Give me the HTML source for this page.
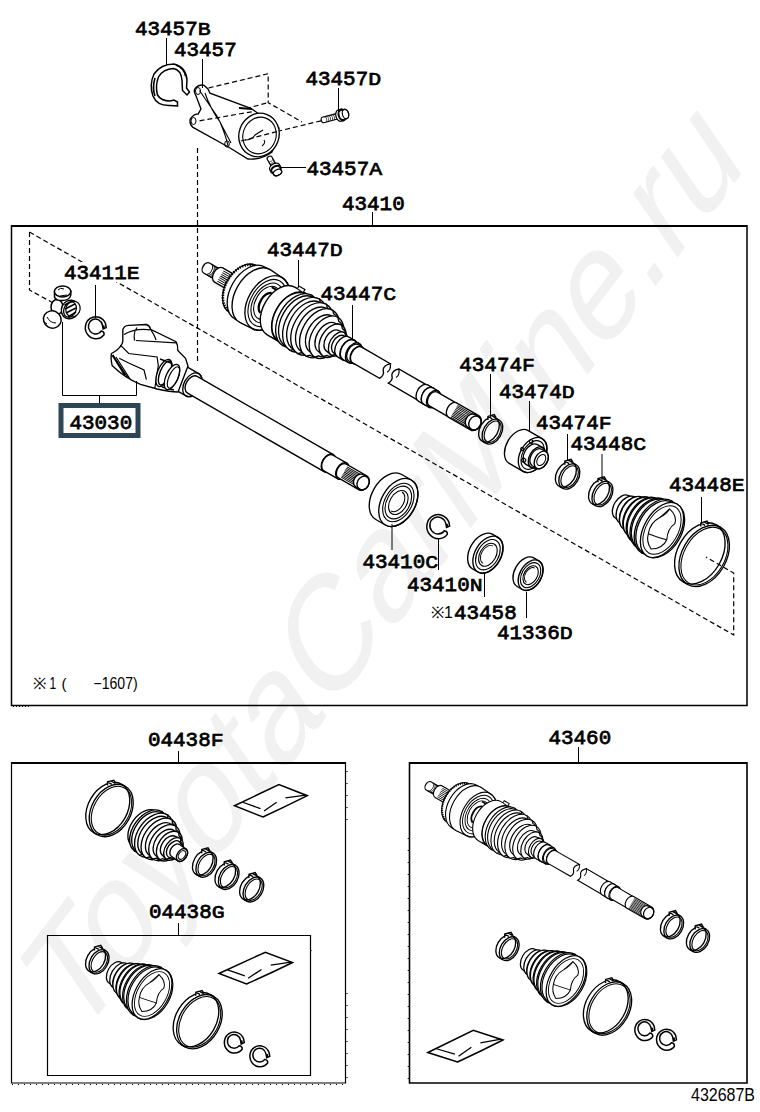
<!DOCTYPE html>
<html><head><meta charset="utf-8">
<style>
html,body{margin:0;padding:0;background:#fff;}
svg{display:block;}
.lb{font-family:"Liberation Mono",monospace;font-weight:normal;font-size:20.5px;fill:#000;stroke:#000;stroke-width:0.75px;}
.sn{font-family:"Liberation Sans",sans-serif;fill:#000;}
.wm{font-family:"Liberation Sans",sans-serif;font-size:140px;fill:#f1f1f1;}
</style></head>
<body>
<svg width="760" height="1112" viewBox="0 0 760 1112">
<!-- watermark -->
<text class="wm" transform="translate(76,1044) rotate(-52.6) skewX(-18)">ToyotaCarMine.ru</text>

<path d="M29.5 232 L29.5 290 L55 304" fill="none" stroke="#000" stroke-width="1.2" stroke-dasharray="5 3"/>
<path d="M29.5 232 L733.7 635 L733.7 573 L706 557" fill="none" stroke="#000" stroke-width="1.2" stroke-dasharray="5 3"/>
<path d="M197.5 148 V361" fill="none" stroke="#000" stroke-width="1.2" stroke-dasharray="5 3"/>
<path d="M208.7 87.9 L268.2 73.75 V102.7 L302 122 M321 120.8 L279 131 L230 142 M199.5 120.8 L268 102.7" fill="none" stroke="#000" stroke-width="1.2" stroke-dasharray="5 3"/>
<path d="M177.5 106 L170 105.5 Q157 106 153 96 Q149 85 154 74 Q161 64 174 64 Q186 67 187 80 L186.5 88 L189.5 92 L187 95 L182.5 90.5 L182 80 Q181 70 173.5 68.5 Q163 69 158.5 77 Q155 86 157.5 95 Q161 101 170 101 L174 100 L177.5 102 Z" fill="#fff" stroke="#000" stroke-width="1.5"/>
<path d="M155 78 Q152 88 155 96 M176 65 Q184 68 185.5 76" fill="none" stroke="#000" stroke-width="1.6"/>
<path d="M195.5 88 Q199 84 204 85.3 L208 89 L210 93.2 L250.8 108.3 L279 128 L272 152 Q262 160 248 159 L228.4 147 L193 127.4 Q189 124 190.3 119 Q194 113.5 198 114.2 L201 109 L195.5 94.5 Q193 91 195.5 88 Z" fill="#fff" stroke="#000" stroke-width="1.35"/>
<ellipse cx="259" cy="135" rx="20" ry="22" transform="rotate(20 259 135)" fill="#fff" stroke="#000" stroke-width="1.35"/>
<ellipse cx="259.5" cy="135.5" rx="16.5" ry="18.5" transform="rotate(20 259.5 135.5)" fill="none" stroke="#000" stroke-width="1.1"/>
<path d="M199.5 90.5 L216.6 115.5 L231 143 M205 93 Q210 108 220 122 Q226 136 228 146 M245 140 Q252 140 255 135 L263 130 M262 146 Q266 143 264 140" fill="none" stroke="#000" stroke-width="1.1"/>
<ellipse cx="198" cy="91" rx="2.5" ry="3.5" fill="none" stroke="#000" stroke-width="1"/><ellipse cx="193.5" cy="121" rx="2.5" ry="3.5" fill="none" stroke="#000" stroke-width="1"/><ellipse cx="227" cy="144" rx="2.3" ry="3.2" fill="none" stroke="#000" stroke-width="1"/>
<path d="M239 108 L252 109" fill="none" stroke="#000" stroke-width="2"/>
<path d="M199.5 120.8 L253 111.6 M241 141 L279 131" fill="none" stroke="#000" stroke-width="1.2" stroke-dasharray="5 3"/>
<g transform="translate(323,120) rotate(-14.93) scale(1)">
<path d="M0 -2.8 L17.29 -2.8 A1.82 2.8 0 0 1 17.29 2.8 L0 2.8 A1.82 2.8 0 0 1 0 -2.8 Z" fill="#fff" stroke="#000" stroke-width="1.2"/>
<ellipse cx="17.29" cy="0" rx="1.82" ry="2.8" fill="none" stroke="#000" stroke-width="1.2"/>
<path d="M2 -2.8 A1.82 2.8 0 0 1 2 2.8" fill="none" stroke="#000" stroke-width="0.6"/>
<path d="M4 -2.8 A1.82 2.8 0 0 1 4 2.8" fill="none" stroke="#000" stroke-width="0.6"/>
<path d="M6 -2.8 A1.82 2.8 0 0 1 6 2.8" fill="none" stroke="#000" stroke-width="0.6"/>
<path d="M8 -2.8 A1.82 2.8 0 0 1 8 2.8" fill="none" stroke="#000" stroke-width="0.6"/>
<path d="M10 -2.8 A1.82 2.8 0 0 1 10 2.8" fill="none" stroke="#000" stroke-width="0.6"/>
<path d="M12 -2.8 A1.82 2.8 0 0 1 12 2.8" fill="none" stroke="#000" stroke-width="0.6"/>
<path d="M14 -2.8 A1.82 2.8 0 0 1 14 2.8" fill="none" stroke="#000" stroke-width="0.6"/>
<path d="M16 -2.8 A1.82 2.8 0 0 1 16 2.8" fill="none" stroke="#000" stroke-width="0.6"/>
<path d="M17.29 -5.88 L19.79 -5.88 A3.82 5.88 0 0 1 19.79 5.88 L17.29 5.88 A3.82 5.88 0 0 1 17.29 -5.88 Z" fill="#fff" stroke="#000" stroke-width="1.2"/>
<ellipse cx="19.79" cy="0" rx="3.82" ry="5.88" fill="none" stroke="#000" stroke-width="1.2"/>
<path d="M19.79 -4.76 L23.29 -4.76 A3.09 4.76 0 0 1 23.29 4.76 L19.79 4.76 A3.09 4.76 0 0 1 19.79 -4.76 Z" fill="#fff" stroke="#000" stroke-width="1.2"/>
<ellipse cx="23.29" cy="0" rx="3.09" ry="4.76" fill="none" stroke="#000" stroke-width="1.2"/>
</g>
<g transform="translate(269.5,158) rotate(61.11) scale(1)">
<path d="M0 -2.6 L10.56 -2.6 A1.69 2.6 0 0 1 10.56 2.6 L0 2.6 A1.69 2.6 0 0 1 0 -2.6 Z" fill="#fff" stroke="#000" stroke-width="1.2"/>
<ellipse cx="10.56" cy="0" rx="1.69" ry="2.6" fill="none" stroke="#000" stroke-width="1.2"/>
<path d="M2 -2.6 A1.69 2.6 0 0 1 2 2.6" fill="none" stroke="#000" stroke-width="0.6"/>
<path d="M4 -2.6 A1.69 2.6 0 0 1 4 2.6" fill="none" stroke="#000" stroke-width="0.6"/>
<path d="M6 -2.6 A1.69 2.6 0 0 1 6 2.6" fill="none" stroke="#000" stroke-width="0.6"/>
<path d="M8 -2.6 A1.69 2.6 0 0 1 8 2.6" fill="none" stroke="#000" stroke-width="0.6"/>
<path d="M10.56 -5.46 L13.06 -5.46 A3.55 5.46 0 0 1 13.06 5.46 L10.56 5.46 A3.55 5.46 0 0 1 10.56 -5.46 Z" fill="#fff" stroke="#000" stroke-width="1.2"/>
<ellipse cx="13.06" cy="0" rx="3.55" ry="5.46" fill="none" stroke="#000" stroke-width="1.2"/>
<path d="M13.06 -4.42 L16.56 -4.42 A2.87 4.42 0 0 1 16.56 4.42 L13.06 4.42 A2.87 4.42 0 0 1 13.06 -4.42 Z" fill="#fff" stroke="#000" stroke-width="1.2"/>
<ellipse cx="16.56" cy="0" rx="2.87" ry="4.42" fill="none" stroke="#000" stroke-width="1.2"/>
</g>
<g id="outershaft">
<g transform="translate(206.5,268) rotate(30) scale(1)">
<path d="M0 -5.8 L14 -5.8 A3.77 5.8 0 0 1 14 5.8 L0 5.8 A3.77 5.8 0 0 1 0 -5.8 Z" fill="#fff" stroke="#000" stroke-width="1.35"/>
<ellipse cx="14" cy="0" rx="3.77" ry="5.8" fill="none" stroke="#000" stroke-width="1.35"/>
<path d="M2 -5.8 A3.77 5.8 0 0 1 2 5.8" fill="none" stroke="#000" stroke-width="0.9"/>
<path d="M4 -5.8 A3.77 5.8 0 0 1 4 5.8" fill="none" stroke="#000" stroke-width="0.9"/>
<path d="M6 -5.8 A3.77 5.8 0 0 1 6 5.8" fill="none" stroke="#000" stroke-width="0.9"/>
<path d="M8 -5.8 A3.77 5.8 0 0 1 8 5.8" fill="none" stroke="#000" stroke-width="0.9"/>
<path d="M10 -5.8 A3.77 5.8 0 0 1 10 5.8" fill="none" stroke="#000" stroke-width="0.9"/>
<path d="M12 -5.8 A3.77 5.8 0 0 1 12 5.8" fill="none" stroke="#000" stroke-width="0.9"/>
<path d="M14 -8.2 L38 -8.2 A5.33 8.2 0 0 1 38 8.2 L14 8.2 A5.33 8.2 0 0 1 14 -8.2 Z" fill="#fff" stroke="#000" stroke-width="1.35"/>
<path d="M16 -6 L37 -6" fill="none" stroke="#000" stroke-width="0.9"/>
<path d="M16 -4 L37 -4" fill="none" stroke="#000" stroke-width="0.9"/>
<path d="M16 -2 L37 -2" fill="none" stroke="#000" stroke-width="0.9"/>
<path d="M16 0 L37 0" fill="none" stroke="#000" stroke-width="0.9"/>
<path d="M16 2 L37 2" fill="none" stroke="#000" stroke-width="0.9"/>
<path d="M16 4 L37 4" fill="none" stroke="#000" stroke-width="0.9"/>
<path d="M16 6 L37 6" fill="none" stroke="#000" stroke-width="0.9"/>
<path d="M36 -12 L44 -12 A7.8 12 0 0 1 44 12 L36 12 A7.8 12 0 0 1 36 -12 Z" fill="#fff" stroke="#000" stroke-width="1.35"/>
<path d="M42 -27 L50 -29 A18.85 29 0 0 1 50 29 L42 27 A17.55 27 0 0 1 42 -27 Z" fill="#fff" stroke="#000" stroke-width="1.35"/>
<path d="M42 -26 A17.5 26 0 0 0 42 26" fill="none" stroke="#000" stroke-width="2.6" stroke-dasharray="1.3 1.3"/>
<path d="M50 -30 L56 -30 A19.5 30 0 0 1 56 30 L50 30 A19.5 30 0 0 1 50 -30 Z" fill="#fff" stroke="#000" stroke-width="1.35"/>
<path d="M56 -30.5 L70 -29.5 A19.18 29.5 0 0 1 70 29.5 L56 30.5 A19.82 30.5 0 0 1 56 -30.5 Z" fill="#fff" stroke="#000" stroke-width="1.35"/>
<ellipse cx="70" cy="0" rx="19.18" ry="29.5" fill="none" stroke="#000" stroke-width="1.35"/>
<ellipse cx="70" cy="0" rx="16.57" ry="25.5" fill="none" stroke="#000" stroke-width="1.1"/>
<ellipse cx="70" cy="0" rx="13.97" ry="21.5" fill="none" stroke="#000" stroke-width="1.1"/>
<ellipse cx="70" cy="0" rx="11.7" ry="18" fill="none" stroke="#000" stroke-width="1.1"/>
<path d="M69 -11 A8 12 0 0 0 69 12" fill="none" stroke="#000" stroke-width="2.2"/>
<path d="M66 -16 L72 -16" fill="none" stroke="#000" stroke-width="2"/>
<path d="M86 -27.5 L99 -27.5 A17.88 27.5 0 0 1 99 27.5 L86 27.5 A17.88 27.5 0 0 1 86 -27.5 Z" fill="#fff" stroke="#000" stroke-width="1.35"/>
<ellipse cx="99" cy="0" rx="17.88" ry="27.5" fill="none" stroke="#000" stroke-width="1.35"/>
<path d="M90 -27.5 A17.88 27.5 0 0 1 90 27.5" fill="none" stroke="#000" stroke-width="0.9"/>
<path d="M89 -28 L89 -30.5 L96 -30.5 L96 -27.5" fill="#fff" stroke="#000" stroke-width="1.2"/>
<path d="M99 -27 L105 -29 A18.85 29 0 0 1 105 29 L99 27 A17.55 27 0 0 1 99 -27 Z" fill="#fff" stroke="#000" stroke-width="1.35"/>
<path d="M105 -29 L107.5 -26 A16.9 26 0 0 1 107.5 26 L105 29 A18.85 29 0 0 1 105 -29 Z" fill="#fff" stroke="#000" stroke-width="1.35"/>
<path d="M107.5 -28 L113.5 -29.5 A19.18 29.5 0 0 1 113.5 29.5 L107.5 28 A18.2 28 0 0 1 107.5 -28 Z" fill="#fff" stroke="#000" stroke-width="1.35"/>
<path d="M113.5 -29.5 L116 -27 A17.55 27 0 0 1 116 27 L113.5 29.5 A19.18 29.5 0 0 1 113.5 -29.5 Z" fill="#fff" stroke="#000" stroke-width="1.35"/>
<path d="M116 -27 L122 -28.5 A18.53 28.5 0 0 1 122 28.5 L116 27 A17.55 27 0 0 1 116 -27 Z" fill="#fff" stroke="#000" stroke-width="1.35"/>
<path d="M122 -28.5 L124.5 -26 A16.9 26 0 0 1 124.5 26 L122 28.5 A18.53 28.5 0 0 1 122 -28.5 Z" fill="#fff" stroke="#000" stroke-width="1.35"/>
<path d="M124.5 -25 L130.5 -26.5 A17.23 26.5 0 0 1 130.5 26.5 L124.5 25 A16.25 25 0 0 1 124.5 -25 Z" fill="#fff" stroke="#000" stroke-width="1.35"/>
<path d="M130.5 -26.5 L133 -24 A15.6 24 0 0 1 133 24 L130.5 26.5 A17.23 26.5 0 0 1 130.5 -26.5 Z" fill="#fff" stroke="#000" stroke-width="1.35"/>
<path d="M132.5 -21 L138.5 -23 A14.95 23 0 0 1 138.5 23 L132.5 21 A13.65 21 0 0 1 132.5 -21 Z" fill="#fff" stroke="#000" stroke-width="1.35"/>
<path d="M138.5 -23 L141 -20 A13 20 0 0 1 141 20 L138.5 23 A14.95 23 0 0 1 138.5 -23 Z" fill="#fff" stroke="#000" stroke-width="1.35"/>
<path d="M139.5 -16.5 L145.5 -18 A11.7 18 0 0 1 145.5 18 L139.5 16.5 A10.72 16.5 0 0 1 139.5 -16.5 Z" fill="#fff" stroke="#000" stroke-width="1.35"/>
<path d="M145.5 -18 L148 -15.5 A10.08 15.5 0 0 1 148 15.5 L145.5 18 A11.7 18 0 0 1 145.5 -18 Z" fill="#fff" stroke="#000" stroke-width="1.35"/>
<path d="M146 -12 L152 -13 A8.45 13 0 0 1 152 13 L146 12 A7.8 12 0 0 1 146 -12 Z" fill="#fff" stroke="#000" stroke-width="1.35"/>
<path d="M152 -13 L154.5 -11 A7.15 11 0 0 1 154.5 11 L152 13 A8.45 13 0 0 1 152 -13 Z" fill="#fff" stroke="#000" stroke-width="1.35"/>
<path d="M153 -10 L158 -10 A6.5 10 0 0 1 158 10 L153 10 A6.5 10 0 0 1 153 -10 Z" fill="#fff" stroke="#000" stroke-width="1.35"/>
<ellipse cx="158" cy="0" rx="6.5" ry="10" fill="none" stroke="#000" stroke-width="1.35"/>
<path d="M158 -11.5 L164 -11.5 A7.48 11.5 0 0 1 164 11.5 L158 11.5 A7.48 11.5 0 0 1 158 -11.5 Z" fill="#fff" stroke="#000" stroke-width="1.35"/>
<ellipse cx="164" cy="0" rx="7.48" ry="11.5" fill="none" stroke="#000" stroke-width="1.35"/>
<path d="M164 -11 L170 -11 A7.15 11 0 0 1 170 11 L164 11 A7.15 11 0 0 1 164 -11 Z" fill="#fff" stroke="#000" stroke-width="1.35"/>
<ellipse cx="170" cy="0" rx="7.15" ry="11" fill="none" stroke="#000" stroke-width="1.35"/>
<path d="M170 -9.5 L174 -9.5 A6.17 9.5 0 0 1 174 9.5 L170 9.5 A6.17 9.5 0 0 1 170 -9.5 Z" fill="#fff" stroke="#000" stroke-width="1.35"/>
<ellipse cx="174" cy="0" rx="6.17" ry="9.5" fill="none" stroke="#000" stroke-width="1.35"/>
<path d="M174 -9 L207 -9 Q202 -4 204 0 Q208 4 205 9 L174 9 A5.8 9 0 0 1 174 -9 Z" fill="#fff" stroke="#000" stroke-width="1.35"/>
<path d="M207 -9 Q211 -4 208.5 0" fill="none" stroke="#000" stroke-width="1.2"/>
<path d="M250 -8.8 L217 -8.8 Q212 -4 214 0 Q218 4 215 8.8 L250 8.8" fill="#fff" stroke="#000" stroke-width="1.35"/>
<path d="M217 -8.8 Q221 -4 219 0" fill="none" stroke="#000" stroke-width="1.2"/>
<path d="M250 -9.3 L256 -9.3 A6.05 9.3 0 0 1 256 9.3 L250 9.3 A6.05 9.3 0 0 1 250 -9.3 Z" fill="#fff" stroke="#000" stroke-width="1.35"/>
<ellipse cx="256" cy="0" rx="6.05" ry="9.3" fill="none" stroke="#000" stroke-width="1.35"/>
<path d="M256 -9.3 L262 -9.3 A6.05 9.3 0 0 1 262 9.3 L256 9.3 A6.05 9.3 0 0 1 256 -9.3 Z" fill="#fff" stroke="#000" stroke-width="1.35"/>
<ellipse cx="262" cy="0" rx="6.05" ry="9.3" fill="none" stroke="#000" stroke-width="1.35"/>
<path d="M262 -8 L284 -8 A5.2 8 0 0 1 284 8 L262 8 A5.2 8 0 0 1 262 -8 Z" fill="#fff" stroke="#000" stroke-width="1.35"/>
<path d="M284 -8.2 L310 -8.2 A5.33 8.2 0 0 1 310 8.2 L284 8.2 A5.33 8.2 0 0 1 284 -8.2 Z" fill="#fff" stroke="#000" stroke-width="1.35"/>
<path d="M286 -6.5 L309 -6.5" fill="none" stroke="#000" stroke-width="0.9"/>
<path d="M286 -5 L309 -5" fill="none" stroke="#000" stroke-width="0.9"/>
<path d="M286 -3.5 L309 -3.5" fill="none" stroke="#000" stroke-width="0.9"/>
<path d="M286 -2 L309 -2" fill="none" stroke="#000" stroke-width="0.9"/>
<path d="M286 -0.5 L309 -0.5" fill="none" stroke="#000" stroke-width="0.9"/>
<path d="M286 1 L309 1" fill="none" stroke="#000" stroke-width="0.9"/>
<path d="M286 2.5 L309 2.5" fill="none" stroke="#000" stroke-width="0.9"/>
<path d="M286 4 L309 4" fill="none" stroke="#000" stroke-width="0.9"/>
<path d="M286 5.5 L309 5.5" fill="none" stroke="#000" stroke-width="0.9"/>
<path d="M286 7 L309 7" fill="none" stroke="#000" stroke-width="0.9"/>
<path d="M306 -7.3 L310 -7.3 A5.84 7.3 0 0 1 310 7.3 L306 7.3 A5.84 7.3 0 0 1 306 -7.3 Z" fill="#fff" stroke="#000" stroke-width="1.35"/>
<ellipse cx="310" cy="0" rx="5.84" ry="7.3" fill="none" stroke="#000" stroke-width="1.35"/>
</g>
</g>
<g transform="translate(490.7,430.6) rotate(30) scale(1)">
<ellipse cx="-2" cy="0" rx="9.11" ry="13.4" fill="none" stroke="#000" stroke-width="1.35"/>
<path d="M-2 -13.4 L2 -13.4 M-2 13.4 L2 13.4" fill="none" stroke="#000" stroke-width="1.35"/>
<ellipse cx="2" cy="0" rx="9.11" ry="13.4" fill="none" stroke="#000" stroke-width="1.35"/>
<ellipse cx="2.3" cy="0" rx="7.31" ry="11.6" fill="none" stroke="#000" stroke-width="1.08"/>
<g transform="translate(-5.23,-10.98) rotate(-45.84)"><path d="M-4 0.5 L-3 -3 L3.5 -3 L4.5 0.5 M-3 -3 L0.5 0.5 M0.5 -3 L4 0.5" fill="#fff" stroke="#000" stroke-width="1.35"/></g>
</g>
<g transform="translate(530,453.5) rotate(30) scale(1)">
<path d="M-13 -19 L3 -19 A12.35 19 0 0 1 3 19 L-13 19 A12.35 19 0 0 1 -13 -19 Z" fill="#fff" stroke="#000" stroke-width="1.35"/>
<ellipse cx="3" cy="0" rx="12.35" ry="19" fill="none" stroke="#000" stroke-width="1.35"/>
<ellipse cx="3" cy="0" rx="10.08" ry="15.5" fill="none" stroke="#000" stroke-width="1.1"/>
<path d="M2 -11.5 L8 -11.5 A7.48 11.5 0 0 1 8 11.5 L2 11.5 A7.48 11.5 0 0 1 2 -11.5 Z" fill="#fff" stroke="#000" stroke-width="1.35"/>
<ellipse cx="8" cy="0" rx="7.48" ry="11.5" fill="none" stroke="#000" stroke-width="1.35"/>
<path d="M8 -9.5 L13 -9.5 A6.17 9.5 0 0 1 13 9.5 L8 9.5 A6.17 9.5 0 0 1 8 -9.5 Z" fill="#fff" stroke="#000" stroke-width="1.35"/>
<ellipse cx="13" cy="0" rx="6.17" ry="9.5" fill="none" stroke="#000" stroke-width="1.35"/>
<ellipse cx="13" cy="0" rx="3.9" ry="6" fill="none" stroke="#000" stroke-width="1.0"/>
<circle cx="-5" cy="-11" r="1.8" fill="none" stroke="#000" stroke-width="1.1"/><circle cx="-2" cy="9" r="2" fill="none" stroke="#000" stroke-width="1.1"/><circle cx="-9" cy="0" r="1.6" fill="none" stroke="#000" stroke-width="1.1"/>
</g>
<g transform="translate(567.6,475.5) rotate(30) scale(1)">
<ellipse cx="-2" cy="0" rx="9.25" ry="13.6" fill="none" stroke="#000" stroke-width="1.35"/>
<path d="M-2 -13.6 L2 -13.6 M-2 13.6 L2 13.6" fill="none" stroke="#000" stroke-width="1.35"/>
<ellipse cx="2" cy="0" rx="9.25" ry="13.6" fill="none" stroke="#000" stroke-width="1.35"/>
<ellipse cx="2.3" cy="0" rx="7.45" ry="11.8" fill="none" stroke="#000" stroke-width="1.08"/>
<g transform="translate(-5.3,-11.14) rotate(-45.84)"><path d="M-4 0.5 L-3 -3 L3.5 -3 L4.5 0.5 M-3 -3 L0.5 0.5 M0.5 -3 L4 0.5" fill="#fff" stroke="#000" stroke-width="1.35"/></g>
</g>
<g transform="translate(600.7,493) rotate(30) scale(1)">
<ellipse cx="-2" cy="0" rx="9.25" ry="13.6" fill="none" stroke="#000" stroke-width="1.35"/>
<path d="M-2 -13.6 L2 -13.6 M-2 13.6 L2 13.6" fill="none" stroke="#000" stroke-width="1.35"/>
<ellipse cx="2" cy="0" rx="9.25" ry="13.6" fill="none" stroke="#000" stroke-width="1.35"/>
<ellipse cx="2.3" cy="0" rx="7.45" ry="11.8" fill="none" stroke="#000" stroke-width="1.08"/>
<g transform="translate(-5.3,-11.14) rotate(-45.84)"><path d="M-4 0.5 L-3 -3 L3.5 -3 L4.5 0.5 M-3 -3 L0.5 0.5 M0.5 -3 L4 0.5" fill="#fff" stroke="#000" stroke-width="1.35"/></g>
</g>
<g transform="translate(662,530) rotate(30) scale(1)">
<path d="M-46 -13 L-40 -14 A9.1 14 0 0 1 -40 14 L-46 13 A8.45 13 0 0 1 -46 -13 Z" fill="#fff" stroke="#000" stroke-width="1.35"/>
<path d="M-40 -14 L-39 -12.5 A8.12 12.5 0 0 1 -39 12.5 L-40 14 A9.1 14 0 0 1 -40 -14 Z" fill="#fff" stroke="#000" stroke-width="1.35"/>
<path d="M-40 -15 L-34 -17.5 A11.38 17.5 0 0 1 -34 17.5 L-40 15 A9.75 15 0 0 1 -40 -15 Z" fill="#fff" stroke="#000" stroke-width="1.35"/>
<path d="M-34 -17.5 L-33 -16 A10.4 16 0 0 1 -33 16 L-34 17.5 A11.38 17.5 0 0 1 -34 -17.5 Z" fill="#fff" stroke="#000" stroke-width="1.35"/>
<path d="M-33 -18.5 L-27 -21 A13.65 21 0 0 1 -27 21 L-33 18.5 A12.03 18.5 0 0 1 -33 -18.5 Z" fill="#fff" stroke="#000" stroke-width="1.35"/>
<path d="M-27 -21 L-26 -19.5 A12.68 19.5 0 0 1 -26 19.5 L-27 21 A13.65 21 0 0 1 -27 -21 Z" fill="#fff" stroke="#000" stroke-width="1.35"/>
<path d="M-26 -21.5 L-20 -24.5 A15.93 24.5 0 0 1 -20 24.5 L-26 21.5 A13.97 21.5 0 0 1 -26 -21.5 Z" fill="#fff" stroke="#000" stroke-width="1.35"/>
<path d="M-20 -24.5 L-19 -23 A14.95 23 0 0 1 -19 23 L-20 24.5 A15.93 24.5 0 0 1 -20 -24.5 Z" fill="#fff" stroke="#000" stroke-width="1.35"/>
<path d="M-19 -24.5 L-13 -27.5 A17.88 27.5 0 0 1 -13 27.5 L-19 24.5 A15.93 24.5 0 0 1 -19 -24.5 Z" fill="#fff" stroke="#000" stroke-width="1.35"/>
<path d="M-13 -27.5 L-12 -26 A16.9 26 0 0 1 -12 26 L-13 27.5 A17.88 27.5 0 0 1 -13 -27.5 Z" fill="#fff" stroke="#000" stroke-width="1.35"/>
<path d="M-12 -27 L-6 -30 A19.5 30 0 0 1 -6 30 L-12 27 A17.55 27 0 0 1 -12 -27 Z" fill="#fff" stroke="#000" stroke-width="1.35"/>
<path d="M-6 -30 L-5 -28.5 A18.53 28.5 0 0 1 -5 28.5 L-6 30 A19.5 30 0 0 1 -6 -30 Z" fill="#fff" stroke="#000" stroke-width="1.35"/>
<path d="M-5 -29 L0 -30 A19.5 30 0 0 1 0 30 L-5 29 A18.85 29 0 0 1 -5 -29 Z" fill="#fff" stroke="#000" stroke-width="1.35"/>
<ellipse cx="0" cy="0" rx="18" ry="30" fill="#fff" stroke="#000" stroke-width="1.35"/>
<ellipse cx="0" cy="0" rx="15.9" ry="26.5" fill="none" stroke="#000" stroke-width="1"/>
<path d="M-4 -22 Q6 -20 8 -12 Q4 -4 9 6 Q10 16 0 22 Q-8 18 -10 10 Q-14 0 -8 -10 Z" fill="none" stroke="#000" stroke-width="1.1"/>
<path d="M-8 -10 Q-4 -16 -4 -22 M9 6 Q2 8 -10 10" fill="none" stroke="#000" stroke-width="1"/>
</g>
<g transform="translate(702,554.7) rotate(30) scale(1)">
<ellipse cx="-2.5" cy="0" rx="22.11" ry="33" fill="none" stroke="#000" stroke-width="1.35"/>
<path d="M-2.5 -33 L2.5 -33 M-2.5 33 L2.5 33" fill="none" stroke="#000" stroke-width="1.35"/>
<ellipse cx="2.5" cy="0" rx="22.11" ry="33" fill="none" stroke="#000" stroke-width="1.35"/>
<ellipse cx="2.8" cy="0" rx="20.31" ry="31.2" fill="none" stroke="#000" stroke-width="1.08"/>
<g transform="translate(-12.68,-27.03) rotate(-46.26)"><path d="M-4 0.5 L-3 -3 L3.5 -3 L4.5 0.5 M-3 -3 L0.5 0.5 M0.5 -3 L4 0.5" fill="#fff" stroke="#000" stroke-width="1.35"/></g>
</g>
<g transform="translate(110,337.4) rotate(29.9) scale(1)">
<path d="M70 -12.8 L95 -12.8 A8.32 12.8 0 0 1 95 12.8 L70 12.8 A8.32 12.8 0 0 1 70 -12.8 Z" fill="#fff" stroke="#000" stroke-width="1.35"/>
<ellipse cx="95" cy="0" rx="8.32" ry="12.8" fill="none" stroke="#000" stroke-width="1.35"/>
<path d="M95 -9.7 L252 -9.7 A6.3 9.7 0 0 1 252 9.7 L95 9.7 A6.3 9.7 0 0 1 95 -9.7 Z" fill="#fff" stroke="#000" stroke-width="1.35"/>
<ellipse cx="252" cy="0" rx="6.3" ry="9.7" fill="none" stroke="#000" stroke-width="1.35"/>
<path d="M252 -9 L268 -9 A5.85 9 0 0 1 268 9 L252 9 A5.85 9 0 0 1 252 -9 Z" fill="#fff" stroke="#000" stroke-width="1.35"/>
<ellipse cx="268" cy="0" rx="5.85" ry="9" fill="none" stroke="#000" stroke-width="1.35"/>
<path d="M268 -8 L292 -8 A5.2 8 0 0 1 292 8 L268 8 A5.2 8 0 0 1 268 -8 Z" fill="#fff" stroke="#000" stroke-width="1.35"/>
<path d="M270 -6 L289 -6" fill="none" stroke="#000" stroke-width="0.9"/>
<path d="M270 -4.5 L289 -4.5" fill="none" stroke="#000" stroke-width="0.9"/>
<path d="M270 -3 L289 -3" fill="none" stroke="#000" stroke-width="0.9"/>
<path d="M270 -1.5 L289 -1.5" fill="none" stroke="#000" stroke-width="0.9"/>
<path d="M270 0 L289 0" fill="none" stroke="#000" stroke-width="0.9"/>
<path d="M270 1.5 L289 1.5" fill="none" stroke="#000" stroke-width="0.9"/>
<path d="M270 3 L289 3" fill="none" stroke="#000" stroke-width="0.9"/>
<path d="M270 4.5 L289 4.5" fill="none" stroke="#000" stroke-width="0.9"/>
<path d="M270 6 L289 6" fill="none" stroke="#000" stroke-width="0.9"/>
<path d="M288 -7.2 L292 -7.2 A5.76 7.2 0 0 1 292 7.2 L288 7.2 A5.76 7.2 0 0 1 288 -7.2 Z" fill="#fff" stroke="#000" stroke-width="1.35"/>
<ellipse cx="292" cy="0" rx="5.76" ry="7.2" fill="none" stroke="#000" stroke-width="1.35"/>
</g>
<path d="M122.8 329.8 Q124 325.5 128.7 325.3 L146.4 324.5 Q149.5 325.5 150.6 329.3 L176 341.7 Q178 345 177.8 350.6 L185.5 358.3 L188 366 L178 392 Q170 392 157.1 389 L140.5 384.3 Q125 378 112.1 365.4 Q110.5 358 111.5 353.5 Q118 350 120.4 346.4 Q122.5 344 122.8 341.7 Z" fill="#fff" stroke="#000" stroke-width="1.35"/>
<path d="M124 334.6 Q135 328 150 329.8 M135.8 340.5 L176 342.9 M120.4 345.2 L128.7 353.5 L157.1 357 L158.3 365.4 L154.7 389 M134.6 340.5 Q133 333 137 327.5 M119.2 358.3 L128.7 363 L144 370 L146.4 379.6 M113 356 L128 378 M116 357 L130 379 M150.6 329.3 Q155 336 156 340" fill="none" stroke="#000" stroke-width="1.2"/>
<path d="M112.5 355 L125 375" fill="none" stroke="#000" stroke-width="2.2"/>
<ellipse cx="164" cy="373" rx="6.5" ry="14.5" transform="rotate(22 164 373)" fill="#fff" stroke="#000" stroke-width="1.35"/>
<ellipse cx="165" cy="373" rx="5" ry="12.8" transform="rotate(22 165 373)" fill="none" stroke="#000" stroke-width="1.4"/>
<path d="M160 359 L171 363 M162 387 L174 390" fill="none" stroke="#000" stroke-width="1.35"/>
<ellipse cx="172" cy="377" rx="6" ry="13.5" transform="rotate(24 172 377)" fill="#fff" stroke="#000" stroke-width="1.35"/>
<ellipse cx="173.5" cy="377.5" rx="4.5" ry="11.5" transform="rotate(24 173.5 377.5)" fill="none" stroke="#000" stroke-width="1.1"/>
<ellipse cx="57" cy="307" rx="6" ry="7.5" fill="#fff" stroke="#000" stroke-width="1.5"/>
<path d="M54.5 292 L54.5 297 Q56 301 62.6 300.5 Q70 300 70.8 295 L70.8 291 Z" fill="#fff" stroke="#000" stroke-width="1.5"/>
<ellipse cx="62.6" cy="291.5" rx="8.2" ry="5.5" fill="#fff" stroke="#000" stroke-width="1.5"/>
<path d="M58 290 Q60 287 64 289 M60 296 L67 295" fill="none" stroke="#000" stroke-width="1"/>
<ellipse cx="52.3" cy="319.5" rx="9" ry="8.5" transform="rotate(30 52.3 319.5)" fill="#fff" stroke="#000" stroke-width="1.5"/>
<path d="M47 317 Q50 323 56 323 M44 322 L47 324" fill="none" stroke="#000" stroke-width="1"/>
<ellipse cx="70" cy="309.5" rx="8.5" ry="9.5" transform="rotate(25 70 309.5)" fill="#fff" stroke="#000" stroke-width="1.5"/>
<ellipse cx="73" cy="309" rx="7" ry="8" transform="rotate(25 73 309)" fill="#fff" stroke="#000" stroke-width="1.2"/>
<path d="M64.5 305 L73 301 M65 309 L75 304 M66 313 L76 308 M68 317 L76 312" fill="none" stroke="#000" stroke-width="1.5"/>
<ellipse cx="70" cy="309.5" rx="6" ry="8" transform="rotate(25 70 309.5)" fill="none" stroke="#000" stroke-width="1.3"/>
<g transform="translate(96,328) rotate(-10) scale(1)">
<path d="M10.14 -2.72 A10.5 11.03 0 1 0 6.75 8.04 Q7.75 5.04 4.56 3.94 A7.1 7.46 0 1 1 6.86 -1.84 L6.86 2.16 L10.14 1.28 Z" fill="#fff" stroke="#000" stroke-width="1.5"/>
<path d="M7.86 -1.34 L7.86 1.66" stroke="#000" stroke-width="1.8"/>
</g>
<g transform="translate(394,500) rotate(30) scale(1)">
<path d="M-6 -26 L5 -26 A16.9 26 0 0 1 5 26 L-6 26 A16.9 26 0 0 1 -6 -26 Z" fill="#fff" stroke="#000" stroke-width="1.35"/>
<ellipse cx="5" cy="0" rx="16.9" ry="26" fill="none" stroke="#000" stroke-width="1.35"/>
<ellipse cx="5" cy="0" rx="13.52" ry="20.8" fill="none" stroke="#000" stroke-width="1.1"/>
<ellipse cx="5" cy="0" rx="11.49" ry="17.68" fill="none" stroke="#000" stroke-width="1.1"/>
<ellipse cx="5" cy="0" rx="8.45" ry="13" fill="none" stroke="#000" stroke-width="1.1"/>
<path d="M3 -10.92 A7.1 10.92 0 0 1 3 10.92" fill="none" stroke="#000" stroke-width="1.0"/>
</g>
<g transform="translate(438.5,527) rotate(-10) scale(1)">
<path d="M11.11 -2.98 A11.5 12.08 0 1 0 7.39 8.81 Q8.39 5.81 5.21 4.7 A8.1 8.51 0 1 1 7.82 -2.1 L7.82 1.9 L11.11 1.02 Z" fill="#fff" stroke="#000" stroke-width="1.5"/>
<path d="M8.82 -1.6 L8.82 1.4" stroke="#000" stroke-width="1.8"/>
</g>
<g transform="translate(485.3,553.2) rotate(30) scale(1)">
<path d="M-3 -20 L3 -20 A13 20 0 0 1 3 20 L-3 20 A13 20 0 0 1 -3 -20 Z" fill="#fff" stroke="#000" stroke-width="1.35"/>
<ellipse cx="3" cy="0" rx="13" ry="20" fill="none" stroke="#000" stroke-width="1.35"/>
<ellipse cx="3" cy="0" rx="10.66" ry="16.4" fill="none" stroke="#000" stroke-width="1.1"/>
<ellipse cx="3" cy="0" rx="8.06" ry="12.4" fill="none" stroke="#000" stroke-width="1.1"/>
<path d="M3 -10 A6.5 10 0 0 0 3 10" fill="none" stroke="#000" stroke-width="0.9"/>
</g>
<g transform="translate(528,573.7) rotate(30) scale(1)">
<path d="M-3 -16.5 L3 -16.5 A10.72 16.5 0 0 1 3 16.5 L-3 16.5 A10.72 16.5 0 0 1 -3 -16.5 Z" fill="#fff" stroke="#000" stroke-width="1.35"/>
<ellipse cx="3" cy="0" rx="10.72" ry="16.5" fill="none" stroke="#000" stroke-width="1.35"/>
<ellipse cx="3" cy="0" rx="8.79" ry="13.53" fill="none" stroke="#000" stroke-width="1.1"/>
<ellipse cx="3" cy="0" rx="6.65" ry="10.23" fill="none" stroke="#000" stroke-width="1.1"/>
<path d="M3 -8.25 A5.36 8.25 0 0 0 3 8.25" fill="none" stroke="#000" stroke-width="0.9"/>
</g>
<g transform="translate(109.5,809.5) rotate(30) scale(1)">
<ellipse cx="-2" cy="0" rx="19.6" ry="28" fill="none" stroke="#000" stroke-width="1.35"/>
<path d="M-2 -28 L2 -28 M-2 28 L2 28" fill="none" stroke="#000" stroke-width="1.35"/>
<ellipse cx="2" cy="0" rx="19.6" ry="28" fill="none" stroke="#000" stroke-width="1.35"/>
<ellipse cx="2.3" cy="0" rx="17.8" ry="26.2" fill="none" stroke="#000" stroke-width="1.08"/>
<g transform="translate(-11.24,-22.94) rotate(-45.01)"><path d="M-4 0.5 L-3 -3 L3.5 -3 L4.5 0.5 M-3 -3 L0.5 0.5 M0.5 -3 L4 0.5" fill="#fff" stroke="#000" stroke-width="1.35"/></g>
</g>
<g transform="translate(182,855) rotate(35) scale(1)">
<path d="M-46 -21 L-41 -24 A15.6 24 0 0 1 -41 24 L-46 21 A13.65 21 0 0 1 -46 -21 Z" fill="#fff" stroke="#000" stroke-width="1.35"/>
<path d="M-41 -24 L-39 -19.5 A12.68 19.5 0 0 1 -39 19.5 L-41 24 A15.6 24 0 0 1 -41 -24 Z" fill="#fff" stroke="#000" stroke-width="1.35"/>
<path d="M-39.5 -23 L-34.5 -24.5 A15.93 24.5 0 0 1 -34.5 24.5 L-39.5 23 A14.95 23 0 0 1 -39.5 -23 Z" fill="#fff" stroke="#000" stroke-width="1.35"/>
<path d="M-34.5 -24.5 L-32.5 -21.5 A13.97 21.5 0 0 1 -32.5 21.5 L-34.5 24.5 A15.93 24.5 0 0 1 -34.5 -24.5 Z" fill="#fff" stroke="#000" stroke-width="1.35"/>
<path d="M-33 -22 L-28 -23 A14.95 23 0 0 1 -28 23 L-33 22 A14.3 22 0 0 1 -33 -22 Z" fill="#fff" stroke="#000" stroke-width="1.35"/>
<path d="M-28 -23 L-26 -20.5 A13.33 20.5 0 0 1 -26 20.5 L-28 23 A14.95 23 0 0 1 -28 -23 Z" fill="#fff" stroke="#000" stroke-width="1.35"/>
<path d="M-26.5 -19 L-21.5 -20 A13 20 0 0 1 -21.5 20 L-26.5 19 A12.35 19 0 0 1 -26.5 -19 Z" fill="#fff" stroke="#000" stroke-width="1.35"/>
<path d="M-21.5 -20 L-19.5 -17.5 A11.38 17.5 0 0 1 -19.5 17.5 L-21.5 20 A13 20 0 0 1 -21.5 -20 Z" fill="#fff" stroke="#000" stroke-width="1.35"/>
<path d="M-20.5 -15.5 L-15.5 -16.5 A10.72 16.5 0 0 1 -15.5 16.5 L-20.5 15.5 A10.08 15.5 0 0 1 -20.5 -15.5 Z" fill="#fff" stroke="#000" stroke-width="1.35"/>
<path d="M-15.5 -16.5 L-13.5 -14 A9.1 14 0 0 1 -13.5 14 L-15.5 16.5 A10.72 16.5 0 0 1 -15.5 -16.5 Z" fill="#fff" stroke="#000" stroke-width="1.35"/>
<path d="M-15.5 -11.5 L-10.5 -12.5 A8.12 12.5 0 0 1 -10.5 12.5 L-15.5 11.5 A7.48 11.5 0 0 1 -15.5 -11.5 Z" fill="#fff" stroke="#000" stroke-width="1.35"/>
<path d="M-10.5 -12.5 L-8.5 -10 A6.5 10 0 0 1 -8.5 10 L-10.5 12.5 A8.12 12.5 0 0 1 -10.5 -12.5 Z" fill="#fff" stroke="#000" stroke-width="1.35"/>
<path d="M-10 -9.5 L-7 -8.5 A5.53 8.5 0 0 1 -7 8.5 L-10 9.5 A6.17 9.5 0 0 1 -10 -9.5 Z" fill="#fff" stroke="#000" stroke-width="1.35"/>
<path d="M-8 -7.2 L0 -7.2 A4.68 7.2 0 0 1 0 7.2 L-8 7.2 A4.68 7.2 0 0 1 -8 -7.2 Z" fill="#fff" stroke="#000" stroke-width="1.35"/>
<ellipse cx="0" cy="0" rx="4.68" ry="7.2" fill="none" stroke="#000" stroke-width="1.35"/>
<ellipse cx="0" cy="0" rx="3.12" ry="4.8" fill="none" stroke="#000" stroke-width="1.1"/>
</g>
<g transform="translate(204.5,863.8) rotate(30) scale(1)">
<ellipse cx="-2" cy="0" rx="9.11" ry="13.4" fill="none" stroke="#000" stroke-width="1.35"/>
<path d="M-2 -13.4 L2 -13.4 M-2 13.4 L2 13.4" fill="none" stroke="#000" stroke-width="1.35"/>
<ellipse cx="2" cy="0" rx="9.11" ry="13.4" fill="none" stroke="#000" stroke-width="1.35"/>
<ellipse cx="2.3" cy="0" rx="7.31" ry="11.6" fill="none" stroke="#000" stroke-width="1.08"/>
<g transform="translate(-5.23,-10.98) rotate(-45.84)"><path d="M-4 0.5 L-3 -3 L3.5 -3 L4.5 0.5 M-3 -3 L0.5 0.5 M0.5 -3 L4 0.5" fill="#fff" stroke="#000" stroke-width="1.35"/></g>
</g>
<g transform="translate(227,876) rotate(30) scale(1)">
<ellipse cx="-2" cy="0" rx="9.11" ry="13.4" fill="none" stroke="#000" stroke-width="1.35"/>
<path d="M-2 -13.4 L2 -13.4 M-2 13.4 L2 13.4" fill="none" stroke="#000" stroke-width="1.35"/>
<ellipse cx="2" cy="0" rx="9.11" ry="13.4" fill="none" stroke="#000" stroke-width="1.35"/>
<ellipse cx="2.3" cy="0" rx="7.31" ry="11.6" fill="none" stroke="#000" stroke-width="1.08"/>
<g transform="translate(-5.23,-10.98) rotate(-45.84)"><path d="M-4 0.5 L-3 -3 L3.5 -3 L4.5 0.5 M-3 -3 L0.5 0.5 M0.5 -3 L4 0.5" fill="#fff" stroke="#000" stroke-width="1.35"/></g>
</g>
<g transform="translate(251.7,888.5) rotate(30) scale(1)">
<ellipse cx="-2" cy="0" rx="9.11" ry="13.4" fill="none" stroke="#000" stroke-width="1.35"/>
<path d="M-2 -13.4 L2 -13.4 M-2 13.4 L2 13.4" fill="none" stroke="#000" stroke-width="1.35"/>
<ellipse cx="2" cy="0" rx="9.11" ry="13.4" fill="none" stroke="#000" stroke-width="1.35"/>
<ellipse cx="2.3" cy="0" rx="7.31" ry="11.6" fill="none" stroke="#000" stroke-width="1.08"/>
<g transform="translate(-5.23,-10.98) rotate(-45.84)"><path d="M-4 0.5 L-3 -3 L3.5 -3 L4.5 0.5 M-3 -3 L0.5 0.5 M0.5 -3 L4 0.5" fill="#fff" stroke="#000" stroke-width="1.35"/></g>
</g>
<path d="M234.5 805.8 L278.9 784.5 L307.3 795.7 Q284.1 807.35 262.9 817 Z" fill="#fff" stroke="#000" stroke-width="1.5"/>
<path d="M242.8 802.24 L260.54 808.7 M264.05 811.09 L276.62 802.23 M285.5 797.97 L305.6 795.03 " fill="none" stroke="#000" stroke-width="1.3"/>
<g transform="translate(97.3,960.8) rotate(30) scale(1)">
<ellipse cx="-2" cy="0" rx="8.84" ry="13" fill="none" stroke="#000" stroke-width="1.35"/>
<path d="M-2 -13 L2 -13 M-2 13 L2 13" fill="none" stroke="#000" stroke-width="1.35"/>
<ellipse cx="2" cy="0" rx="8.84" ry="13" fill="none" stroke="#000" stroke-width="1.35"/>
<ellipse cx="2.3" cy="0" rx="7.04" ry="11.2" fill="none" stroke="#000" stroke-width="1.08"/>
<g transform="translate(-5.07,-10.65) rotate(-45.84)"><path d="M-4 0.5 L-3 -3 L3.5 -3 L4.5 0.5 M-3 -3 L0.5 0.5 M0.5 -3 L4 0.5" fill="#fff" stroke="#000" stroke-width="1.35"/></g>
</g>
<g transform="translate(152,994) rotate(30) scale(0.92)">
<path d="M-46 -13 L-40 -14 A9.1 14 0 0 1 -40 14 L-46 13 A8.45 13 0 0 1 -46 -13 Z" fill="#fff" stroke="#000" stroke-width="1.35"/>
<path d="M-40 -14 L-39 -12.5 A8.12 12.5 0 0 1 -39 12.5 L-40 14 A9.1 14 0 0 1 -40 -14 Z" fill="#fff" stroke="#000" stroke-width="1.35"/>
<path d="M-40 -15 L-34 -17.5 A11.38 17.5 0 0 1 -34 17.5 L-40 15 A9.75 15 0 0 1 -40 -15 Z" fill="#fff" stroke="#000" stroke-width="1.35"/>
<path d="M-34 -17.5 L-33 -16 A10.4 16 0 0 1 -33 16 L-34 17.5 A11.38 17.5 0 0 1 -34 -17.5 Z" fill="#fff" stroke="#000" stroke-width="1.35"/>
<path d="M-33 -18.5 L-27 -21 A13.65 21 0 0 1 -27 21 L-33 18.5 A12.03 18.5 0 0 1 -33 -18.5 Z" fill="#fff" stroke="#000" stroke-width="1.35"/>
<path d="M-27 -21 L-26 -19.5 A12.68 19.5 0 0 1 -26 19.5 L-27 21 A13.65 21 0 0 1 -27 -21 Z" fill="#fff" stroke="#000" stroke-width="1.35"/>
<path d="M-26 -21.5 L-20 -24.5 A15.93 24.5 0 0 1 -20 24.5 L-26 21.5 A13.97 21.5 0 0 1 -26 -21.5 Z" fill="#fff" stroke="#000" stroke-width="1.35"/>
<path d="M-20 -24.5 L-19 -23 A14.95 23 0 0 1 -19 23 L-20 24.5 A15.93 24.5 0 0 1 -20 -24.5 Z" fill="#fff" stroke="#000" stroke-width="1.35"/>
<path d="M-19 -24.5 L-13 -27.5 A17.88 27.5 0 0 1 -13 27.5 L-19 24.5 A15.93 24.5 0 0 1 -19 -24.5 Z" fill="#fff" stroke="#000" stroke-width="1.35"/>
<path d="M-13 -27.5 L-12 -26 A16.9 26 0 0 1 -12 26 L-13 27.5 A17.88 27.5 0 0 1 -13 -27.5 Z" fill="#fff" stroke="#000" stroke-width="1.35"/>
<path d="M-12 -27 L-6 -30 A19.5 30 0 0 1 -6 30 L-12 27 A17.55 27 0 0 1 -12 -27 Z" fill="#fff" stroke="#000" stroke-width="1.35"/>
<path d="M-6 -30 L-5 -28.5 A18.53 28.5 0 0 1 -5 28.5 L-6 30 A19.5 30 0 0 1 -6 -30 Z" fill="#fff" stroke="#000" stroke-width="1.35"/>
<path d="M-5 -29 L0 -30 A19.5 30 0 0 1 0 30 L-5 29 A18.85 29 0 0 1 -5 -29 Z" fill="#fff" stroke="#000" stroke-width="1.35"/>
<ellipse cx="0" cy="0" rx="18" ry="30" fill="#fff" stroke="#000" stroke-width="1.35"/>
<ellipse cx="0" cy="0" rx="15.9" ry="26.5" fill="none" stroke="#000" stroke-width="1"/>
<path d="M-4 -22 Q6 -20 8 -12 Q4 -4 9 6 Q10 16 0 22 Q-8 18 -10 10 Q-14 0 -8 -10 Z" fill="none" stroke="#000" stroke-width="1.1"/>
<path d="M-8 -10 Q-4 -16 -4 -22 M9 6 Q2 8 -10 10" fill="none" stroke="#000" stroke-width="1"/>
</g>
<g transform="translate(197.7,1020.7) rotate(30) scale(1)">
<ellipse cx="-2" cy="0" rx="20.3" ry="29" fill="none" stroke="#000" stroke-width="1.35"/>
<path d="M-2 -29 L2 -29 M-2 29 L2 29" fill="none" stroke="#000" stroke-width="1.35"/>
<ellipse cx="2" cy="0" rx="20.3" ry="29" fill="none" stroke="#000" stroke-width="1.35"/>
<ellipse cx="2.3" cy="0" rx="18.5" ry="27.2" fill="none" stroke="#000" stroke-width="1.08"/>
<g transform="translate(-11.64,-23.76) rotate(-45.01)"><path d="M-4 0.5 L-3 -3 L3.5 -3 L4.5 0.5 M-3 -3 L0.5 0.5 M0.5 -3 L4 0.5" fill="#fff" stroke="#000" stroke-width="1.35"/></g>
</g>
<g transform="translate(234.5,1042.9) rotate(-10) scale(1)">
<path d="M9.66 -2.59 A10 10.5 0 1 0 6.43 7.66 Q7.43 4.66 4.24 3.56 A6.6 6.93 0 1 1 6.38 -1.71 L6.38 2.29 L9.66 1.41 Z" fill="#fff" stroke="#000" stroke-width="1.5"/>
<path d="M7.38 -1.21 L7.38 1.79" stroke="#000" stroke-width="1.8"/>
</g>
<g transform="translate(260,1056.6) rotate(-10) scale(1)">
<path d="M9.66 -2.59 A10 10.5 0 1 0 6.43 7.66 Q7.43 4.66 4.24 3.56 A6.6 6.93 0 1 1 6.38 -1.71 L6.38 2.29 L9.66 1.41 Z" fill="#fff" stroke="#000" stroke-width="1.5"/>
<path d="M7.38 -1.21 L7.38 1.79" stroke="#000" stroke-width="1.8"/>
</g>
<path d="M219 973.5 L265.3 952.2 L292.6 962.5 Q268.55 974.25 246.5 984 Z" fill="#fff" stroke="#000" stroke-width="1.5"/>
<path d="M227.62 969.93 L244.85 975.96 M248.15 978.24 L261.5 969.46 M270.76 965.2 L291.15 962.07 " fill="none" stroke="#000" stroke-width="1.3"/>
<use href="#outershaft" transform="translate(426.5,783.2) scale(0.82) translate(-204,-264.7)"/>
<g transform="translate(507.5,947.7) rotate(30) scale(1)">
<ellipse cx="-2" cy="0" rx="8.7" ry="12.8" fill="none" stroke="#000" stroke-width="1.35"/>
<path d="M-2 -12.8 L2 -12.8 M-2 12.8 L2 12.8" fill="none" stroke="#000" stroke-width="1.35"/>
<ellipse cx="2" cy="0" rx="8.7" ry="12.8" fill="none" stroke="#000" stroke-width="1.35"/>
<ellipse cx="2.3" cy="0" rx="6.9" ry="11" fill="none" stroke="#000" stroke-width="1.08"/>
<g transform="translate(-4.99,-10.49) rotate(-45.84)"><path d="M-4 0.5 L-3 -3 L3.5 -3 L4.5 0.5 M-3 -3 L0.5 0.5 M0.5 -3 L4 0.5" fill="#fff" stroke="#000" stroke-width="1.35"/></g>
</g>
<g transform="translate(566,981) rotate(30) scale(0.92)">
<path d="M-46 -13 L-40 -14 A9.1 14 0 0 1 -40 14 L-46 13 A8.45 13 0 0 1 -46 -13 Z" fill="#fff" stroke="#000" stroke-width="1.35"/>
<path d="M-40 -14 L-39 -12.5 A8.12 12.5 0 0 1 -39 12.5 L-40 14 A9.1 14 0 0 1 -40 -14 Z" fill="#fff" stroke="#000" stroke-width="1.35"/>
<path d="M-40 -15 L-34 -17.5 A11.38 17.5 0 0 1 -34 17.5 L-40 15 A9.75 15 0 0 1 -40 -15 Z" fill="#fff" stroke="#000" stroke-width="1.35"/>
<path d="M-34 -17.5 L-33 -16 A10.4 16 0 0 1 -33 16 L-34 17.5 A11.38 17.5 0 0 1 -34 -17.5 Z" fill="#fff" stroke="#000" stroke-width="1.35"/>
<path d="M-33 -18.5 L-27 -21 A13.65 21 0 0 1 -27 21 L-33 18.5 A12.03 18.5 0 0 1 -33 -18.5 Z" fill="#fff" stroke="#000" stroke-width="1.35"/>
<path d="M-27 -21 L-26 -19.5 A12.68 19.5 0 0 1 -26 19.5 L-27 21 A13.65 21 0 0 1 -27 -21 Z" fill="#fff" stroke="#000" stroke-width="1.35"/>
<path d="M-26 -21.5 L-20 -24.5 A15.93 24.5 0 0 1 -20 24.5 L-26 21.5 A13.97 21.5 0 0 1 -26 -21.5 Z" fill="#fff" stroke="#000" stroke-width="1.35"/>
<path d="M-20 -24.5 L-19 -23 A14.95 23 0 0 1 -19 23 L-20 24.5 A15.93 24.5 0 0 1 -20 -24.5 Z" fill="#fff" stroke="#000" stroke-width="1.35"/>
<path d="M-19 -24.5 L-13 -27.5 A17.88 27.5 0 0 1 -13 27.5 L-19 24.5 A15.93 24.5 0 0 1 -19 -24.5 Z" fill="#fff" stroke="#000" stroke-width="1.35"/>
<path d="M-13 -27.5 L-12 -26 A16.9 26 0 0 1 -12 26 L-13 27.5 A17.88 27.5 0 0 1 -13 -27.5 Z" fill="#fff" stroke="#000" stroke-width="1.35"/>
<path d="M-12 -27 L-6 -30 A19.5 30 0 0 1 -6 30 L-12 27 A17.55 27 0 0 1 -12 -27 Z" fill="#fff" stroke="#000" stroke-width="1.35"/>
<path d="M-6 -30 L-5 -28.5 A18.53 28.5 0 0 1 -5 28.5 L-6 30 A19.5 30 0 0 1 -6 -30 Z" fill="#fff" stroke="#000" stroke-width="1.35"/>
<path d="M-5 -29 L0 -30 A19.5 30 0 0 1 0 30 L-5 29 A18.85 29 0 0 1 -5 -29 Z" fill="#fff" stroke="#000" stroke-width="1.35"/>
<ellipse cx="0" cy="0" rx="18" ry="30" fill="#fff" stroke="#000" stroke-width="1.35"/>
<ellipse cx="0" cy="0" rx="15.9" ry="26.5" fill="none" stroke="#000" stroke-width="1"/>
<path d="M-4 -22 Q6 -20 8 -12 Q4 -4 9 6 Q10 16 0 22 Q-8 18 -10 10 Q-14 0 -8 -10 Z" fill="none" stroke="#000" stroke-width="1.1"/>
<path d="M-8 -10 Q-4 -16 -4 -22 M9 6 Q2 8 -10 10" fill="none" stroke="#000" stroke-width="1"/>
</g>
<g transform="translate(607.5,1007.5) rotate(30) scale(1)">
<ellipse cx="-2" cy="0" rx="19.95" ry="28.5" fill="none" stroke="#000" stroke-width="1.35"/>
<path d="M-2 -28.5 L2 -28.5 M-2 28.5 L2 28.5" fill="none" stroke="#000" stroke-width="1.35"/>
<ellipse cx="2" cy="0" rx="19.95" ry="28.5" fill="none" stroke="#000" stroke-width="1.35"/>
<ellipse cx="2.3" cy="0" rx="18.15" ry="26.7" fill="none" stroke="#000" stroke-width="1.08"/>
<g transform="translate(-11.44,-23.35) rotate(-45.01)"><path d="M-4 0.5 L-3 -3 L3.5 -3 L4.5 0.5 M-3 -3 L0.5 0.5 M0.5 -3 L4 0.5" fill="#fff" stroke="#000" stroke-width="1.35"/></g>
</g>
<g transform="translate(672,926) rotate(30) scale(1)">
<ellipse cx="-2" cy="0" rx="8.7" ry="12.8" fill="none" stroke="#000" stroke-width="1.35"/>
<path d="M-2 -12.8 L2 -12.8 M-2 12.8 L2 12.8" fill="none" stroke="#000" stroke-width="1.35"/>
<ellipse cx="2" cy="0" rx="8.7" ry="12.8" fill="none" stroke="#000" stroke-width="1.35"/>
<ellipse cx="2.3" cy="0" rx="6.9" ry="11" fill="none" stroke="#000" stroke-width="1.08"/>
<g transform="translate(-4.99,-10.49) rotate(-45.84)"><path d="M-4 0.5 L-3 -3 L3.5 -3 L4.5 0.5 M-3 -3 L0.5 0.5 M0.5 -3 L4 0.5" fill="#fff" stroke="#000" stroke-width="1.35"/></g>
</g>
<g transform="translate(698,939.5) rotate(30) scale(1)">
<ellipse cx="-2" cy="0" rx="8.7" ry="12.8" fill="none" stroke="#000" stroke-width="1.35"/>
<path d="M-2 -12.8 L2 -12.8 M-2 12.8 L2 12.8" fill="none" stroke="#000" stroke-width="1.35"/>
<ellipse cx="2" cy="0" rx="8.7" ry="12.8" fill="none" stroke="#000" stroke-width="1.35"/>
<ellipse cx="2.3" cy="0" rx="6.9" ry="11" fill="none" stroke="#000" stroke-width="1.08"/>
<g transform="translate(-4.99,-10.49) rotate(-45.84)"><path d="M-4 0.5 L-3 -3 L3.5 -3 L4.5 0.5 M-3 -3 L0.5 0.5 M0.5 -3 L4 0.5" fill="#fff" stroke="#000" stroke-width="1.35"/></g>
</g>
<g transform="translate(645,1030.3) rotate(-10) scale(1)">
<path d="M9.66 -2.59 A10 10.5 0 1 0 6.43 7.66 Q7.43 4.66 4.24 3.56 A6.6 6.93 0 1 1 6.38 -1.71 L6.38 2.29 L9.66 1.41 Z" fill="#fff" stroke="#000" stroke-width="1.5"/>
<path d="M7.38 -1.21 L7.38 1.79" stroke="#000" stroke-width="1.8"/>
</g>
<g transform="translate(666.7,1040) rotate(-10) scale(1)">
<path d="M9.66 -2.59 A10 10.5 0 1 0 6.43 7.66 Q7.43 4.66 4.24 3.56 A6.6 6.93 0 1 1 6.38 -1.71 L6.38 2.29 L9.66 1.41 Z" fill="#fff" stroke="#000" stroke-width="1.5"/>
<path d="M7.38 -1.21 L7.38 1.79" stroke="#000" stroke-width="1.8"/>
</g>
<path d="M427.9 1052.5 L473.3 1030.3 L502.9 1040 Q479.2 1052 457.5 1062 Z" fill="#fff" stroke="#000" stroke-width="1.5"/>
<path d="M436.39 1048.75 L454.88 1054.17 M458.55 1056.31 L471.34 1047.32 M480.42 1042.88 L501.12 1039.23 " fill="none" stroke="#000" stroke-width="1.3"/>
<g fill="none" stroke="#000">
<!-- main box -->
<path d="M11.5 226 H747" stroke-width="2"/>
<path d="M11.5 225 V705.5 H747 V225" stroke-width="1.5"/>
<!-- 04438F box -->
<path d="M11.5 763 H345.5" stroke-width="2"/>
<path d="M11.5 762 V1083 H345.5 V762" stroke-width="1.2"/>
<!-- 04438G box -->
<path d="M47.5 935.5 H310.5 V1075.5 H47.5 Z" stroke-width="1.2"/>
<!-- 43460 box -->
<path d="M409.5 763 H747" stroke-width="2"/>
<path d="M409.5 762 V1083 H747 V762" stroke-width="1.6"/>
<!-- 43030 box -->
<rect x="61" y="405.5" width="77" height="30" stroke="#2d4656" stroke-width="5"/>
</g>

<g fill="none" stroke="#000" stroke-width="1.2" stroke-dasharray="1 11">
<path d="M347 771 V825"/>
<path d="M347 993 V1080"/>
<path d="M408.3 838 V1080"/>
<path d="M311 950 V962"/>
<path d="M12 1084.5 H345" stroke-dasharray="1 5"/>
<path d="M13 706.5 H30" stroke-dasharray="1 2"/>
</g>
<!-- leader lines -->
<g fill="none" stroke="#000" stroke-width="1">
<path d="M166.5 38 V65"/>
<path d="M202.5 59 V88"/>
<path d="M338.5 88 V111"/>
<path d="M281 167.5 H306"/>
<path d="M372.5 212 V226"/>
<path d="M95.5 285 V318"/>
<path d="M62.5 322 V395.5 H136.5 V381"/>
<path d="M99.5 395.5 V403"/>
<path d="M298.5 260 V287"/>
<path d="M352.5 305 V339"/>
<path d="M490.5 374 V417"/>
<path d="M529.5 401 V432"/>
<path d="M567.5 434 V461"/>
<path d="M602 454 V482"/>
<path d="M701.5 497 V523"/>
<path d="M392 524 V550"/>
<path d="M438.5 539 V570"/>
<path d="M484.5 572 V597"/>
<path d="M526.5 592 V618"/>
<path d="M178.5 751 V763"/>
<path d="M178.5 923 V935"/>
<path d="M578.5 747 V763"/>
</g>

<!-- labels -->
<rect x="63" y="262" width="78" height="20" fill="#fff"/>
<g class="lb">
<text transform="translate(135.0,35.0) scale(1.02,1.0)">43457</text><text transform="translate(197.7,35.0) scale(1.05,0.89)">B</text>
<text transform="translate(174,56) scale(1.02,1.0)">43457</text>
<text transform="translate(305.5,84.5) scale(1.02,1.0)">43457</text><text transform="translate(368.2,84.5) scale(1.05,0.89)">D</text>
<text transform="translate(306.5,175.0) scale(1.02,1.0)">43457</text><text transform="translate(369.2,175.0) scale(1.05,0.89)">A</text>
<text transform="translate(342,209.5) scale(1.02,1.0)">43410</text>
<text transform="translate(64.0,279.0) scale(1.02,1.0)">43411</text><text transform="translate(126.7,279.0) scale(1.05,0.89)">E</text>
<text transform="translate(69.5,428.5) scale(1.02,1.0)">43030</text>
<text transform="translate(267.0,255.5) scale(1.02,1.0)">43447</text><text transform="translate(329.7,255.5) scale(1.05,0.89)">D</text>
<text transform="translate(320.5,299.5) scale(1.02,1.0)">43447</text><text transform="translate(383.2,299.5) scale(1.05,0.89)">C</text>
<text transform="translate(459.3,370.5) scale(1.02,1.0)">43474</text><text transform="translate(522.0,370.5) scale(1.05,0.89)">F</text>
<text transform="translate(499.0,398.0) scale(1.02,1.0)">43474</text><text transform="translate(561.7,398.0) scale(1.05,0.89)">D</text>
<text transform="translate(536.0,428.5) scale(1.02,1.0)">43474</text><text transform="translate(598.7,428.5) scale(1.05,0.89)">F</text>
<text transform="translate(570.5,450.0) scale(1.02,1.0)">43448</text><text transform="translate(633.2,450.0) scale(1.05,0.89)">C</text>
<text transform="translate(669.0,491.0) scale(1.02,1.0)">43448</text><text transform="translate(731.7,491.0) scale(1.05,0.89)">E</text>
<text transform="translate(362.5,567.5) scale(1.02,1.0)">43410</text><text transform="translate(425.2,567.5) scale(1.05,0.89)">C</text>
<text transform="translate(407.0,591.0) scale(1.02,1.0)">43410</text><text transform="translate(469.7,591.0) scale(1.05,0.89)">N</text>
<text transform="translate(454,618.5) scale(1.02,1.0)">43458</text>
<text transform="translate(497.0,638.5) scale(1.02,1.0)">41336</text><text transform="translate(559.7,638.5) scale(1.05,0.89)">D</text>
<text transform="translate(148.0,746.0) scale(1.02,1.0)">04438</text><text transform="translate(210.7,746.0) scale(1.05,0.89)">F</text>
<text transform="translate(149.0,918.0) scale(1.02,1.0)">04438</text><text transform="translate(211.7,918.0) scale(1.05,0.89)">G</text>
<text transform="translate(548.5,743.5) scale(1.02,1.0)">43460</text>
</g>
<text class="sn" x="431" y="618" font-size="16">※1</text>
<text class="sn" x="33" y="688.5" font-size="16">※</text>
<text class="sn" transform="translate(49.5,688.5) scale(0.75,1)" font-size="16">1</text>
<text class="sn" x="61.5" y="688.5" font-size="15">(</text>
<text class="sn" transform="translate(93.5,688.5) scale(0.88,1)" font-size="16">−1607)</text>
<text class="sn" transform="translate(691,1101.3) scale(1,1.1)" font-size="16">432687B</text>
</svg>
</body></html>
